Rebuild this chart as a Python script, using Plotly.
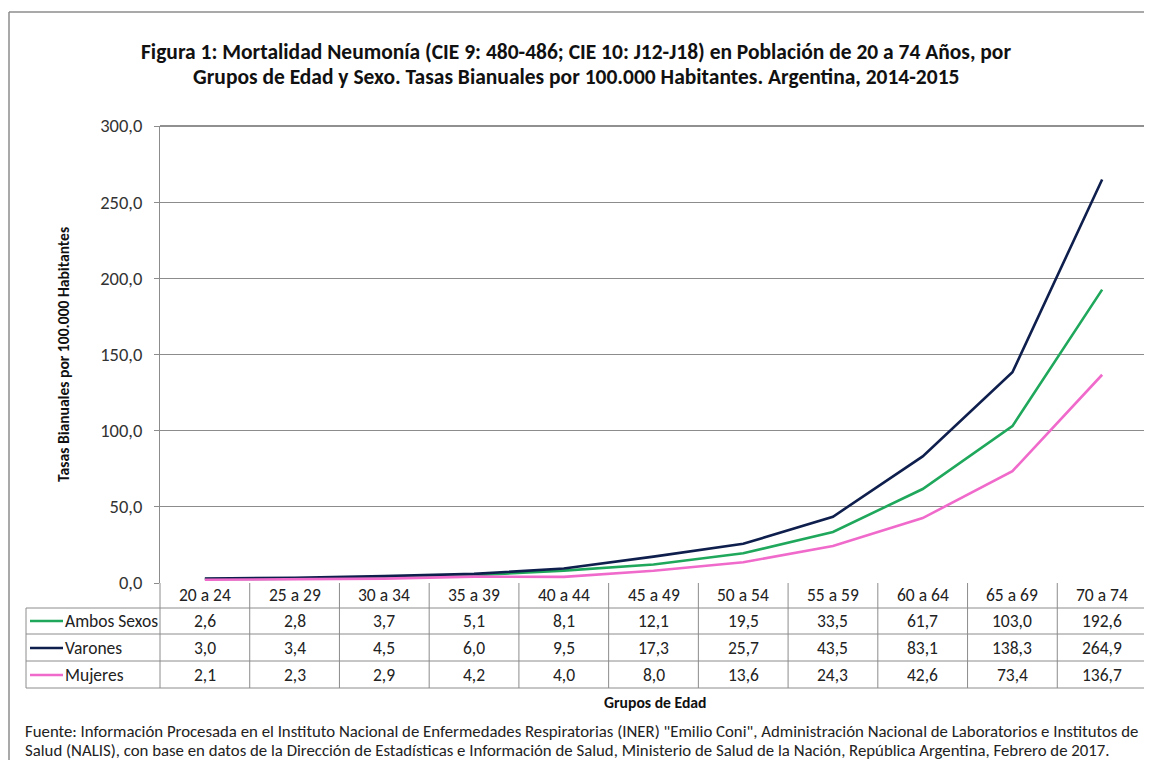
import plotly.graph_objects as go

categories = ["20 a 24", "25 a 29", "30 a 34", "35 a 39", "40 a 44", "45 a 49",
              "50 a 54", "55 a 59", "60 a 64", "65 a 69", "70 a 74"]
ambos = [2.6, 2.8, 3.7, 5.1, 8.1, 12.1, 19.5, 33.5, 61.7, 103.0, 192.6]
varones = [3.0, 3.4, 4.5, 6.0, 9.5, 17.3, 25.7, 43.5, 83.1, 138.3, 264.9]
mujeres = [2.1, 2.3, 2.9, 4.2, 4.0, 8.0, 13.6, 24.3, 42.6, 73.4, 136.7]
series_names = ["Ambos Sexos", "Varones", "Mujeres"]
series_colors = ["#1FA85C", "#0F1F4D", "#F06ACB"]
y_ticks = [0, 50, 100, 150, 200, 250, 300]

# page body has an 8px margin: work in reference pixels, convert with OFF
OFF = 8
W, H = 1152 - OFF, 760 - OFF
L, R, T, B = 160 - OFF, 1147 - OFF, 126 - OFF, 583 - OFF
FONT = "Carlito, Lato"


def px(x):
    return (x - OFF - L) / (R - L)


def py(y):
    return (B - (y - OFF)) / (B - T)


fig = go.Figure()
series = [ambos, varones, mujeres]
for name, vals, col in zip(series_names, series, series_colors):
    fig.add_trace(go.Scatter(x=categories, y=vals, name=name, mode="lines",
                             line=dict(color=col, width=2.6), showlegend=False))

shapes = []
ann = []
grid = "#8C8C8C"

# outer chart border
shapes.append(dict(type="line", xref="paper", yref="paper", x0=px(9), x1=px(1160), y0=py(12), y1=py(12),
                   line=dict(color="#8C8C8C", width=1.5)))
shapes.append(dict(type="line", xref="paper", yref="paper", x0=px(9), x1=px(9), y0=py(12), y1=py(770),
                   line=dict(color="#8C8C8C", width=1.5)))

# plot area top/right border
shapes.append(dict(type="line", xref="paper", yref="paper", x0=0, x1=1, y0=1, y1=1,
                   line=dict(color="#222222", width=1.2)))
shapes.append(dict(type="line", xref="paper", yref="paper", x0=1, x1=1, y0=0, y1=1,
                   line=dict(color="#444444", width=1.2)))

# table
row_lines = [608, 634, 661, 688]
row_centers = [621, 648, 675]
header_center = 595
tbl_left = 26
for yl in row_lines:
    shapes.append(dict(type="line", xref="paper", yref="paper", x0=px(tbl_left), x1=1, y0=py(yl), y1=py(yl),
                       line=dict(color=grid, width=1)))
shapes.append(dict(type="line", xref="paper", yref="paper", x0=px(tbl_left), x1=px(tbl_left),
                   y0=py(608), y1=py(688), line=dict(color=grid, width=1)))
shapes.append(dict(type="line", xref="paper", yref="paper", x0=0, x1=0,
                   y0=py(583), y1=py(688), line=dict(color=grid, width=1)))
shapes.append(dict(type="line", xref="paper", yref="paper", x0=1, x1=1,
                   y0=py(583), y1=py(688), line=dict(color=grid, width=1)))
for i in range(1, len(categories)):
    shapes.append(dict(type="line", xref="x", yref="paper", x0=i - 0.5, x1=i - 0.5,
                       y0=py(583), y1=py(688), line=dict(color=grid, width=1)))

tf = dict(family=FONT, size=17.5, color="#222222")
for c in categories:
    ann.append(dict(x=c, xref="x", y=py(header_center), yref="paper", text=c, showarrow=False,
                    font=tf, xanchor="center", yanchor="middle"))
for name, vals, col, yc in zip(series_names, series, series_colors, row_centers):
    shapes.append(dict(type="line", xref="paper", yref="paper", x0=px(30), x1=px(63), y0=py(yc), y1=py(yc),
                       line=dict(color=col, width=2.6)))
    ann.append(dict(x=px(63), xref="paper", y=py(yc), yref="paper", text=name, showarrow=False,
                    font=tf, xanchor="left", yanchor="middle"))
    for c, v in zip(categories, vals):
        ann.append(dict(x=c, xref="x", y=py(yc), yref="paper", text=f"{v:.1f}".replace(".", ","),
                        showarrow=False, font=tf, xanchor="center", yanchor="middle"))

# titles
title_font = dict(family=FONT, size=21.5, color="#111111")
ann.append(dict(x=px(576), xref="paper", y=py(52), yref="paper", showarrow=False, xanchor="center",
                yanchor="middle", font=title_font,
                text="<b>Figura 1: Mortalidad Neumonía (CIE 9: 480-486; CIE 10: J12-J18) en Población de 20 a 74 Años, por</b>"))
ann.append(dict(x=px(576), xref="paper", y=py(77), yref="paper", showarrow=False, xanchor="center",
                yanchor="middle", font=title_font,
                text="<b>Grupos de Edad y Sexo. Tasas Bianuales por 100.000 Habitantes. Argentina, 2014-2015</b>"))

ann.append(dict(x=px(655), xref="paper", y=py(702), yref="paper", showarrow=False, xanchor="center",
                yanchor="middle", font=dict(family=FONT, size=15.7, color="#111111"),
                text="<b>Grupos de Edad</b>"))
ann.append(dict(x=px(63), xref="paper", y=py(355), yref="paper", showarrow=False, xanchor="center",
                yanchor="middle", textangle=-90, font=dict(family=FONT, size=15.6, color="#111111"),
                text="<b>Tasas Bianuales por 100.000 Habitantes</b>"))

src_font = dict(family=FONT, size=16.8, color="#222222")
ann.append(dict(x=px(23), xref="paper", y=py(731), yref="paper", showarrow=False, xanchor="left",
                yanchor="middle", font=src_font,
                text="Fuente: Información Procesada en el Instituto Nacional de Enfermedades Respiratorias (INER) \"Emilio Coni\", Administración Nacional de Laboratorios e Institutos de"))
ann.append(dict(x=px(23), xref="paper", y=py(750), yref="paper", showarrow=False, xanchor="left",
                yanchor="middle", font=src_font,
                text="Salud (NALIS), con base en datos de la Dirección de Estadísticas e Información de Salud, Ministerio de Salud de la Nación, República Argentina, Febrero de 2017."))

fig.update_layout(
    width=W, height=H,
    margin=dict(l=L, r=W - R, t=T, b=H - B),
    paper_bgcolor="white", plot_bgcolor="white",
    separators=",.",
    shapes=shapes, annotations=ann,
    xaxis=dict(type="category", range=[-0.5, len(categories) - 0.5], showticklabels=False,
               showgrid=False, showline=False, zeroline=False, ticks=""),
    yaxis=dict(range=[0, 300], tickvals=y_ticks, tickformat=".1f", showgrid=True, gridcolor=grid,
               gridwidth=1, showline=True, linecolor=grid, linewidth=1, ticks="outside", ticklen=5,
               ticklabelstandoff=8,
               tickcolor=grid, zeroline=False, tickfont=dict(family=FONT, size=18.5, color="#333333")),
)

fig.write_html("out.html")
